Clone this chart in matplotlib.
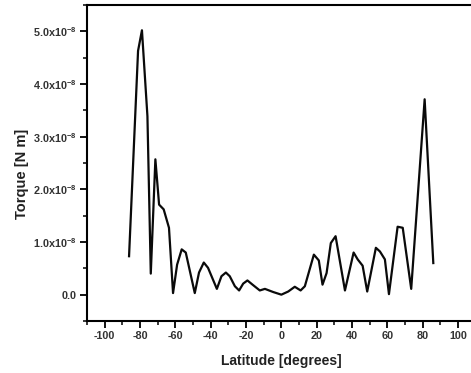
import matplotlib
matplotlib.use("Agg")
import matplotlib.pyplot as plt
from matplotlib.ticker import MultipleLocator, FuncFormatter

latitude = [-86.2, -81.1, -78.9, -75.8, -73.9, -71.3, -69.2, -66.6, -63.6, -61.3,
            -59.0, -56.4, -54.1, -49.0, -46.6, -43.9, -41.5, -36.5, -33.9, -31.4,
            -29.2, -26.3, -23.9, -21.6, -19.2, -16.3, -12.2, -9.3, -4.6, 0.0,
            3.9, 7.6, 10.9, 13.3, 18.4, 21.2, 23.3, 25.6, 28.0, 30.7,
            36.0, 40.9, 43.2, 46.0, 48.6, 53.5, 55.8, 58.6, 60.9, 65.8,
            68.7, 73.5, 81.1, 86.0]
torque_e8 = [0.73, 4.63, 5.02, 3.39, 0.40, 2.57, 1.71, 1.62, 1.27, 0.03,
             0.57, 0.86, 0.80, 0.03, 0.42, 0.61, 0.51, 0.11, 0.35, 0.42,
             0.35, 0.16, 0.08, 0.21, 0.27, 0.19, 0.08, 0.11, 0.05, 0.0,
             0.06, 0.15, 0.08, 0.16, 0.76, 0.65, 0.19, 0.41, 0.98, 1.11,
             0.08, 0.80, 0.67, 0.55, 0.06, 0.89, 0.82, 0.67, 0.01, 1.29,
             1.27, 0.11, 3.71, 0.60]
torque = [v * 1e-8 for v in torque_e8]

plt.rcParams['font.family'] = ['Liberation Sans', 'DejaVu Sans']
plt.rcParams['axes.unicode_minus'] = False
plt.rcParams['mathtext.fontset'] = 'custom'
plt.rcParams['mathtext.rm'] = 'Liberation Sans:bold'
plt.rcParams['mathtext.it'] = 'Liberation Sans:bold'
plt.rcParams['mathtext.bf'] = 'Liberation Sans:bold'

fig = plt.figure(figsize=(4.71, 3.73), dpi=100)
ax = fig.add_axes([87/471, 1-321/373, (475.7-87)/471, (321-5)/373])
ax.plot(latitude, torque, color='#0a0a0a', lw=1.6)

ax.set_xlim(-110, 110)
ax.set_ylim(-0.5e-8, 5.5e-8)
ax.xaxis.set_major_locator(MultipleLocator(20))
ax.xaxis.set_minor_locator(MultipleLocator(10))
ax.yaxis.set_major_locator(MultipleLocator(1e-8))
ax.yaxis.set_minor_locator(MultipleLocator(0.5e-8))

def yfmt(v, pos):
    m = round(v / 1e-8, 1)
    if abs(m) < 1e-9:
        return "0.0"
    return f"{m:.1f}x10$^{{-8}}$"
ax.yaxis.set_major_formatter(FuncFormatter(yfmt))

for s in ax.spines.values():
    s.set_linewidth(1.5)
ax.tick_params(which='major', direction='out', length=5, width=1.3, labelsize=7.8, pad=2.5)
ax.tick_params(which='minor', direction='out', length=3, width=1.1)
for lab in ax.get_xticklabels() + ax.get_yticklabels():
    lab.set_fontweight('bold')
    lab.set_color('#333333')

ax.set_xlabel("Latitude [degrees]", fontsize=10, fontweight='bold', color='#222222', labelpad=9)
ax.set_ylabel("Torque [N m]", fontsize=10.5, fontweight='bold', color='#222222')
ax.yaxis.set_label_coords(-0.148, 0.465)

fig.savefig("out.png", dpi=100)
